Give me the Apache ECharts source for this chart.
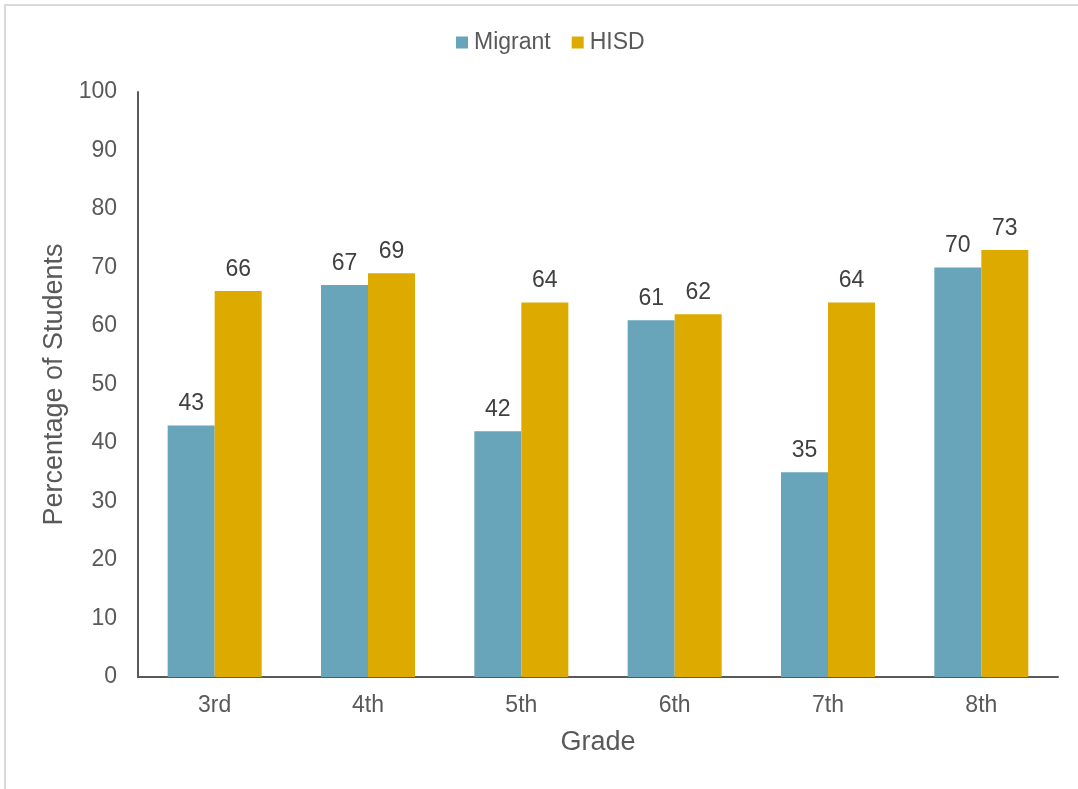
<!DOCTYPE html>
<html>
<head>
<meta charset="utf-8">
<style>
  html, body { margin: 0; padding: 0; background: #fff; }
  #frame { position: absolute; left: 4px; top: 4px; width: 1200px; height: 900px;
           border-left: 2px solid #d9d9d9; border-top: 2px solid #d9d9d9; box-sizing: border-box; }
  #chart { position: absolute; left: 0; top: 0; width: 1078px; height: 789px; }
</style>
<script src="https://cdn.jsdelivr.net/npm/echarts@6/dist/echarts.min.js"></script>
</head>
<body>
<div id="frame"></div>
<div id="chart"></div>
<script>
const grades = ['3rd', '4th', '5th', '6th', '7th', '8th'];
const migrant = [43, 67, 42, 61, 35, 70];
const hisd = [66, 69, 64, 62, 64, 73];
const yTicks = { min: 0, max: 100, interval: 10 };

const font = 'Liberation Sans, Arial, sans-serif';
const chart = echarts.init(document.getElementById('chart'), null, { renderer: 'canvas' });

const labelStyle = {
  show: true, position: 'top', distance: 10,
  color: '#404040', fontSize: 23, fontFamily: font
};

chart.setOption({
  animation: false,
  backgroundColor: 'transparent',
  legend: {
    top: 26, left: 451,
    itemWidth: 12, itemHeight: 12, itemGap: 21,
    icon: 'rect',
    textStyle: { color: '#595959', fontSize: 23, fontFamily: font, padding: [0, 0, 0, 1] },
    data: ['Migrant', 'HISD']
  },
  grid: { left: 138, right: 20, top: 92, bottom: 112 },
  xAxis: {
    type: 'category', data: grades,
    name: 'Grade', nameLocation: 'middle', nameGap: 52,
    nameTextStyle: { color: '#595959', fontSize: 27, fontFamily: font },
    axisLine: { lineStyle: { color: '#595959', width: 2 } },
    axisTick: { show: false },
    axisLabel: { color: '#595959', fontSize: 23, fontFamily: font, margin: 17 }
  },
  yAxis: {
    type: 'value', min: yTicks.min, max: yTicks.max, interval: yTicks.interval,
    name: 'Percentage of Students', nameLocation: 'middle', nameGap: 70,
    nameTextStyle: { color: '#595959', fontSize: 27, fontFamily: font },
    axisLine: { show: true, lineStyle: { color: '#595959', width: 2 } },
    axisTick: { show: false },
    splitLine: { show: false },
    axisLabel: { color: '#595959', fontSize: 23, fontFamily: font, margin: 21 }
  },
  series: [
    {
      name: 'Migrant', type: 'bar', data: migrant,
      barWidth: 47, barGap: '0%',
      itemStyle: { color: '#68A4BA' },
      label: labelStyle
    },
    {
      name: 'HISD', type: 'bar', data: hisd,
      barWidth: 47,
      itemStyle: { color: '#DDAA00' },
      label: labelStyle
    }
  ]
});
</script>
</body>
</html>
